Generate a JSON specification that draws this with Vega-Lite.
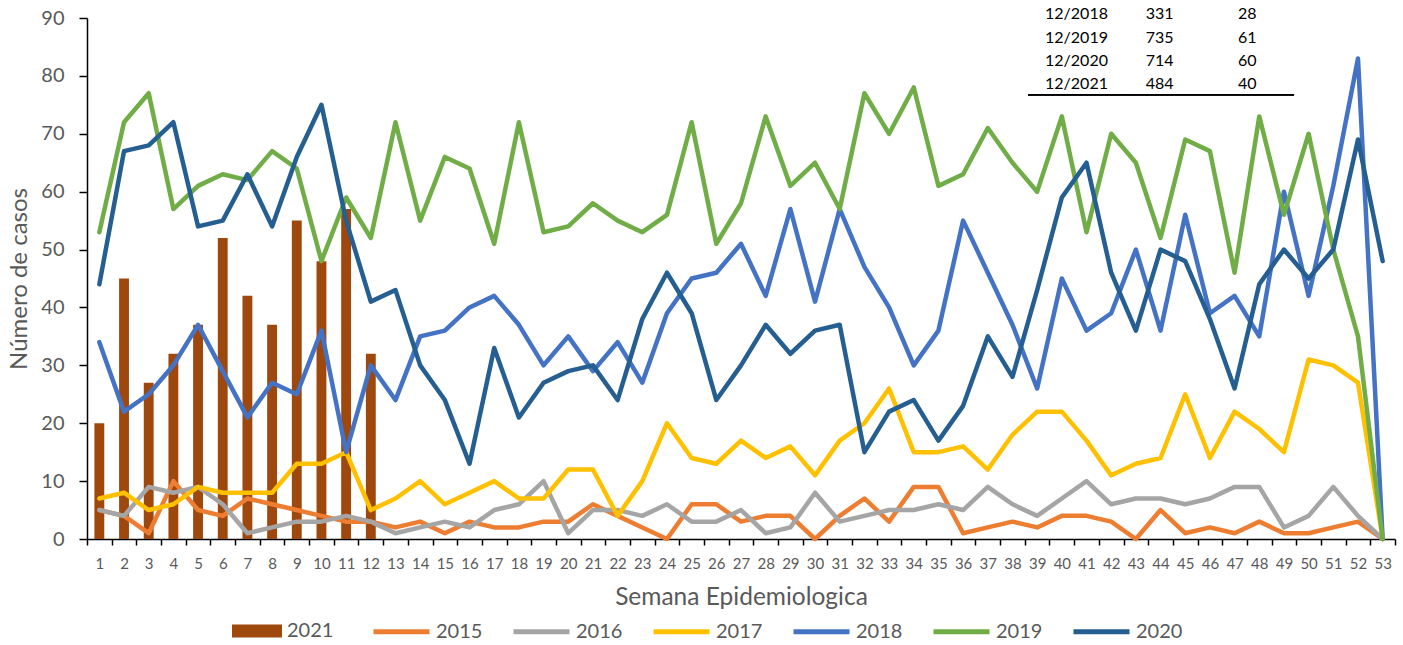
{
  "$schema": "https://vega.github.io/schema/vega-lite/v6.json",
  "width": 1308,
  "height": 521,
  "autosize": {"type": "none"},
  "padding": {"left": 87, "top": 18, "right": 8, "bottom": 106},
  "background": "white",
  "config": {
    "font": "Lato",
    "view": {"stroke": null},
    "axis": {"labelFont": "Lato", "titleFont": "Lato", "labelColor": "#595959", "titleColor": "#595959", "titleFontWeight": "normal", "grid": false, "domainColor": "#000000", "tickColor": "#000000", "domainWidth": 1.5, "tickWidth": 1.5},
    "legend": {"labelFont": "Lato", "labelColor": "#595959", "labelFontSize": 20, "padding": 0}
  },
  "datasets": {
    "bars": [
      {"week": 1, "year": "2021", "cases": 20}, {"week": 2, "year": "2021", "cases": 45}, {"week": 3, "year": "2021", "cases": 27},
      {"week": 4, "year": "2021", "cases": 32}, {"week": 5, "year": "2021", "cases": 37}, {"week": 6, "year": "2021", "cases": 52},
      {"week": 7, "year": "2021", "cases": 42}, {"week": 8, "year": "2021", "cases": 37}, {"week": 9, "year": "2021", "cases": 55},
      {"week": 10, "year": "2021", "cases": 48}, {"week": 11, "year": "2021", "cases": 57}, {"week": 12, "year": "2021", "cases": 32}
    ],
    "table": [
      {"period": "12/2018", "year": 2018, "total": 331, "avg": 28},
      {"period": "12/2019", "year": 2019, "total": 735, "avg": 61},
      {"period": "12/2020", "year": 2020, "total": 714, "avg": 60},
      {"period": "12/2021", "year": 2021, "total": 484, "avg": 40}
    ],
    "lines": [
      {"week":1,"year":"2015","cases":5},{"week":2,"year":"2015","cases":4},{"week":3,"year":"2015","cases":1},{"week":4,"year":"2015","cases":10},{"week":5,"year":"2015","cases":5},{"week":6,"year":"2015","cases":4},{"week":7,"year":"2015","cases":7},{"week":8,"year":"2015","cases":6},{"week":9,"year":"2015","cases":5},{"week":10,"year":"2015","cases":4},
      {"week":11,"year":"2015","cases":3},{"week":12,"year":"2015","cases":3},{"week":13,"year":"2015","cases":2},{"week":14,"year":"2015","cases":3},{"week":15,"year":"2015","cases":1},{"week":16,"year":"2015","cases":3},{"week":17,"year":"2015","cases":2},{"week":18,"year":"2015","cases":2},{"week":19,"year":"2015","cases":3},{"week":20,"year":"2015","cases":3},
      {"week":21,"year":"2015","cases":6},{"week":22,"year":"2015","cases":4},{"week":23,"year":"2015","cases":2},{"week":24,"year":"2015","cases":0},{"week":25,"year":"2015","cases":6},{"week":26,"year":"2015","cases":6},{"week":27,"year":"2015","cases":3},{"week":28,"year":"2015","cases":4},{"week":29,"year":"2015","cases":4},{"week":30,"year":"2015","cases":0},
      {"week":31,"year":"2015","cases":4},{"week":32,"year":"2015","cases":7},{"week":33,"year":"2015","cases":3},{"week":34,"year":"2015","cases":9},{"week":35,"year":"2015","cases":9},{"week":36,"year":"2015","cases":1},{"week":37,"year":"2015","cases":2},{"week":38,"year":"2015","cases":3},{"week":39,"year":"2015","cases":2},{"week":40,"year":"2015","cases":4},
      {"week":41,"year":"2015","cases":4},{"week":42,"year":"2015","cases":3},{"week":43,"year":"2015","cases":0},{"week":44,"year":"2015","cases":5},{"week":45,"year":"2015","cases":1},{"week":46,"year":"2015","cases":2},{"week":47,"year":"2015","cases":1},{"week":48,"year":"2015","cases":3},{"week":49,"year":"2015","cases":1},{"week":50,"year":"2015","cases":1},
      {"week":51,"year":"2015","cases":2},{"week":52,"year":"2015","cases":3},{"week":53,"year":"2015","cases":0},

      {"week":1,"year":"2016","cases":5},{"week":2,"year":"2016","cases":4},{"week":3,"year":"2016","cases":9},{"week":4,"year":"2016","cases":8},{"week":5,"year":"2016","cases":9},{"week":6,"year":"2016","cases":6},{"week":7,"year":"2016","cases":1},{"week":8,"year":"2016","cases":2},{"week":9,"year":"2016","cases":3},{"week":10,"year":"2016","cases":3},
      {"week":11,"year":"2016","cases":4},{"week":12,"year":"2016","cases":3},{"week":13,"year":"2016","cases":1},{"week":14,"year":"2016","cases":2},{"week":15,"year":"2016","cases":3},{"week":16,"year":"2016","cases":2},{"week":17,"year":"2016","cases":5},{"week":18,"year":"2016","cases":6},{"week":19,"year":"2016","cases":10},{"week":20,"year":"2016","cases":1},
      {"week":21,"year":"2016","cases":5},{"week":22,"year":"2016","cases":5},{"week":23,"year":"2016","cases":4},{"week":24,"year":"2016","cases":6},{"week":25,"year":"2016","cases":3},{"week":26,"year":"2016","cases":3},{"week":27,"year":"2016","cases":5},{"week":28,"year":"2016","cases":1},{"week":29,"year":"2016","cases":2},{"week":30,"year":"2016","cases":8},
      {"week":31,"year":"2016","cases":3},{"week":32,"year":"2016","cases":4},{"week":33,"year":"2016","cases":5},{"week":34,"year":"2016","cases":5},{"week":35,"year":"2016","cases":6},{"week":36,"year":"2016","cases":5},{"week":37,"year":"2016","cases":9},{"week":38,"year":"2016","cases":6},{"week":39,"year":"2016","cases":4},{"week":40,"year":"2016","cases":7},
      {"week":41,"year":"2016","cases":10},{"week":42,"year":"2016","cases":6},{"week":43,"year":"2016","cases":7},{"week":44,"year":"2016","cases":7},{"week":45,"year":"2016","cases":6},{"week":46,"year":"2016","cases":7},{"week":47,"year":"2016","cases":9},{"week":48,"year":"2016","cases":9},{"week":49,"year":"2016","cases":2},{"week":50,"year":"2016","cases":4},
      {"week":51,"year":"2016","cases":9},{"week":52,"year":"2016","cases":4},{"week":53,"year":"2016","cases":0},

      {"week":1,"year":"2017","cases":7},{"week":2,"year":"2017","cases":8},{"week":3,"year":"2017","cases":5},{"week":4,"year":"2017","cases":6},{"week":5,"year":"2017","cases":9},{"week":6,"year":"2017","cases":8},{"week":7,"year":"2017","cases":8},{"week":8,"year":"2017","cases":8},{"week":9,"year":"2017","cases":13},{"week":10,"year":"2017","cases":13},
      {"week":11,"year":"2017","cases":15},{"week":12,"year":"2017","cases":5},{"week":13,"year":"2017","cases":7},{"week":14,"year":"2017","cases":10},{"week":15,"year":"2017","cases":6},{"week":16,"year":"2017","cases":8},{"week":17,"year":"2017","cases":10},{"week":18,"year":"2017","cases":7},{"week":19,"year":"2017","cases":7},{"week":20,"year":"2017","cases":12},
      {"week":21,"year":"2017","cases":12},{"week":22,"year":"2017","cases":4},{"week":23,"year":"2017","cases":10},{"week":24,"year":"2017","cases":20},{"week":25,"year":"2017","cases":14},{"week":26,"year":"2017","cases":13},{"week":27,"year":"2017","cases":17},{"week":28,"year":"2017","cases":14},{"week":29,"year":"2017","cases":16},{"week":30,"year":"2017","cases":11},
      {"week":31,"year":"2017","cases":17},{"week":32,"year":"2017","cases":20},{"week":33,"year":"2017","cases":26},{"week":34,"year":"2017","cases":15},{"week":35,"year":"2017","cases":15},{"week":36,"year":"2017","cases":16},{"week":37,"year":"2017","cases":12},{"week":38,"year":"2017","cases":18},{"week":39,"year":"2017","cases":22},{"week":40,"year":"2017","cases":22},
      {"week":41,"year":"2017","cases":17},{"week":42,"year":"2017","cases":11},{"week":43,"year":"2017","cases":13},{"week":44,"year":"2017","cases":14},{"week":45,"year":"2017","cases":25},{"week":46,"year":"2017","cases":14},{"week":47,"year":"2017","cases":22},{"week":48,"year":"2017","cases":19},{"week":49,"year":"2017","cases":15},{"week":50,"year":"2017","cases":31},
      {"week":51,"year":"2017","cases":30},{"week":52,"year":"2017","cases":27},{"week":53,"year":"2017","cases":0},

      {"week":1,"year":"2018","cases":34},{"week":2,"year":"2018","cases":22},{"week":3,"year":"2018","cases":25},{"week":4,"year":"2018","cases":30},{"week":5,"year":"2018","cases":37},{"week":6,"year":"2018","cases":29},{"week":7,"year":"2018","cases":21},{"week":8,"year":"2018","cases":27},{"week":9,"year":"2018","cases":25},{"week":10,"year":"2018","cases":36},
      {"week":11,"year":"2018","cases":15},{"week":12,"year":"2018","cases":30},{"week":13,"year":"2018","cases":24},{"week":14,"year":"2018","cases":35},{"week":15,"year":"2018","cases":36},{"week":16,"year":"2018","cases":40},{"week":17,"year":"2018","cases":42},{"week":18,"year":"2018","cases":37},{"week":19,"year":"2018","cases":30},{"week":20,"year":"2018","cases":35},
      {"week":21,"year":"2018","cases":29},{"week":22,"year":"2018","cases":34},{"week":23,"year":"2018","cases":27},{"week":24,"year":"2018","cases":39},{"week":25,"year":"2018","cases":45},{"week":26,"year":"2018","cases":46},{"week":27,"year":"2018","cases":51},{"week":28,"year":"2018","cases":42},{"week":29,"year":"2018","cases":57},{"week":30,"year":"2018","cases":41},
      {"week":31,"year":"2018","cases":57},{"week":32,"year":"2018","cases":47},{"week":33,"year":"2018","cases":40},{"week":34,"year":"2018","cases":30},{"week":35,"year":"2018","cases":36},{"week":36,"year":"2018","cases":55},{"week":37,"year":"2018","cases":46},{"week":38,"year":"2018","cases":37},{"week":39,"year":"2018","cases":26},{"week":40,"year":"2018","cases":45},
      {"week":41,"year":"2018","cases":36},{"week":42,"year":"2018","cases":39},{"week":43,"year":"2018","cases":50},{"week":44,"year":"2018","cases":36},{"week":45,"year":"2018","cases":56},{"week":46,"year":"2018","cases":39},{"week":47,"year":"2018","cases":42},{"week":48,"year":"2018","cases":35},{"week":49,"year":"2018","cases":60},{"week":50,"year":"2018","cases":42},
      {"week":51,"year":"2018","cases":61},{"week":52,"year":"2018","cases":83},{"week":53,"year":"2018","cases":0},

      {"week":1,"year":"2019","cases":53},{"week":2,"year":"2019","cases":72},{"week":3,"year":"2019","cases":77},{"week":4,"year":"2019","cases":57},{"week":5,"year":"2019","cases":61},{"week":6,"year":"2019","cases":63},{"week":7,"year":"2019","cases":62},{"week":8,"year":"2019","cases":67},{"week":9,"year":"2019","cases":64},{"week":10,"year":"2019","cases":48},
      {"week":11,"year":"2019","cases":59},{"week":12,"year":"2019","cases":52},{"week":13,"year":"2019","cases":72},{"week":14,"year":"2019","cases":55},{"week":15,"year":"2019","cases":66},{"week":16,"year":"2019","cases":64},{"week":17,"year":"2019","cases":51},{"week":18,"year":"2019","cases":72},{"week":19,"year":"2019","cases":53},{"week":20,"year":"2019","cases":54},
      {"week":21,"year":"2019","cases":58},{"week":22,"year":"2019","cases":55},{"week":23,"year":"2019","cases":53},{"week":24,"year":"2019","cases":56},{"week":25,"year":"2019","cases":72},{"week":26,"year":"2019","cases":51},{"week":27,"year":"2019","cases":58},{"week":28,"year":"2019","cases":73},{"week":29,"year":"2019","cases":61},{"week":30,"year":"2019","cases":65},
      {"week":31,"year":"2019","cases":57},{"week":32,"year":"2019","cases":77},{"week":33,"year":"2019","cases":70},{"week":34,"year":"2019","cases":78},{"week":35,"year":"2019","cases":61},{"week":36,"year":"2019","cases":63},{"week":37,"year":"2019","cases":71},{"week":38,"year":"2019","cases":65},{"week":39,"year":"2019","cases":60},{"week":40,"year":"2019","cases":73},
      {"week":41,"year":"2019","cases":53},{"week":42,"year":"2019","cases":70},{"week":43,"year":"2019","cases":65},{"week":44,"year":"2019","cases":52},{"week":45,"year":"2019","cases":69},{"week":46,"year":"2019","cases":67},{"week":47,"year":"2019","cases":46},{"week":48,"year":"2019","cases":73},{"week":49,"year":"2019","cases":56},{"week":50,"year":"2019","cases":70},
      {"week":51,"year":"2019","cases":50},{"week":52,"year":"2019","cases":35},{"week":53,"year":"2019","cases":0},

      {"week":1,"year":"2020","cases":44},{"week":2,"year":"2020","cases":67},{"week":3,"year":"2020","cases":68},{"week":4,"year":"2020","cases":72},{"week":5,"year":"2020","cases":54},{"week":6,"year":"2020","cases":55},{"week":7,"year":"2020","cases":63},{"week":8,"year":"2020","cases":54},{"week":9,"year":"2020","cases":66},{"week":10,"year":"2020","cases":75},
      {"week":11,"year":"2020","cases":55},{"week":12,"year":"2020","cases":41},{"week":13,"year":"2020","cases":43},{"week":14,"year":"2020","cases":30},{"week":15,"year":"2020","cases":24},{"week":16,"year":"2020","cases":13},{"week":17,"year":"2020","cases":33},{"week":18,"year":"2020","cases":21},{"week":19,"year":"2020","cases":27},{"week":20,"year":"2020","cases":29},
      {"week":21,"year":"2020","cases":30},{"week":22,"year":"2020","cases":24},{"week":23,"year":"2020","cases":38},{"week":24,"year":"2020","cases":46},{"week":25,"year":"2020","cases":39},{"week":26,"year":"2020","cases":24},{"week":27,"year":"2020","cases":30},{"week":28,"year":"2020","cases":37},{"week":29,"year":"2020","cases":32},{"week":30,"year":"2020","cases":36},
      {"week":31,"year":"2020","cases":37},{"week":32,"year":"2020","cases":15},{"week":33,"year":"2020","cases":22},{"week":34,"year":"2020","cases":24},{"week":35,"year":"2020","cases":17},{"week":36,"year":"2020","cases":23},{"week":37,"year":"2020","cases":35},{"week":38,"year":"2020","cases":28},{"week":39,"year":"2020","cases":43},{"week":40,"year":"2020","cases":59},
      {"week":41,"year":"2020","cases":65},{"week":42,"year":"2020","cases":46},{"week":43,"year":"2020","cases":36},{"week":44,"year":"2020","cases":50},{"week":45,"year":"2020","cases":48},{"week":46,"year":"2020","cases":38},{"week":47,"year":"2020","cases":26},{"week":48,"year":"2020","cases":44},{"week":49,"year":"2020","cases":50},{"week":50,"year":"2020","cases":45},
      {"week":51,"year":"2020","cases":50},{"week":52,"year":"2020","cases":69},{"week":53,"year":"2020","cases":48}
    ]
  },
  "layer": [
    {
      "layer": [
        {
          "data": {"name": "bars"},
          "mark": {"type": "bar", "width": {"band": 0.4}},
          "encoding": {
            "x": {"field": "week", "type": "ordinal", "scale": {"type": "band", "paddingInner": 0, "paddingOuter": 0},
                  "axis": {"title": "Semana Epidemiologica", "labelAngle": 0, "tickBand": "extent", "tickSize": 6, "labelFontSize": 15, "labelPadding": 11, "titleFontSize": 24.5, "titlePadding": 14, "labelOverlap": false}},
            "y": {"field": "cases", "type": "quantitative", "scale": {"domain": [0, 90], "nice": false},
                  "axis": {"values": [0, 10, 20, 30, 40, 50, 60, 70, 80, 90], "title": "Número de casos", "tickSize": 8, "labelFontSize": 20, "labelPadding": 15, "titleFontSize": 24, "titlePadding": 9}},
            "fill": {"field": "year", "type": "nominal", "scale": {"domain": ["2021"], "range": ["#9E480E"]},
                     "legend": {"orient": "none", "legendX": 145, "legendY": 588, "title": null, "symbolType": "M-1,-0.26H1V0.26H-1Z", "symbolSize": 2500, "symbolStrokeWidth": 0, "labelOffset": 5}}
          }
        },
        {
          "data": {"name": "lines"},
          "mark": {"type": "line", "strokeWidth": 4.5, "strokeJoin": "round", "strokeCap": "round"},
          "encoding": {
            "x": {"field": "week", "type": "ordinal", "scale": {"type": "band"}},
            "y": {"field": "cases", "type": "quantitative"},
            "stroke": {"field": "year", "type": "nominal",
                       "scale": {"domain": ["2015", "2016", "2017", "2018", "2019", "2020"], "range": ["#ED7D31", "#A5A5A5", "#FFC000", "#4472C4", "#70AD47", "#255E91"]},
                       "legend": {"orient": "none", "legendX": 284, "legendY": 583, "direction": "horizontal", "columns": 6, "title": null, "symbolType": "stroke", "symbolSize": 3136, "symbolStrokeWidth": 5, "labelOffset": 4, "columnPadding": 20}}
          }
        }
      ]
    },
    {
      "data": {"name": "table"},
      "encoding": {
        "y": {"field": "year", "type": "quantitative", "scale": {"domain": [2018.163, 2040.523], "reverse": true, "nice": false, "zero": false}, "axis": null}
      },
      "layer": [
        {"mark": {"type": "text", "align": "left", "baseline": "middle", "fontSize": 16, "color": "#000000"},
         "encoding": {"x": {"datum": 39.32, "type": "quantitative", "scale": {"domain": [0.5, 53.5], "nice": false, "zero": false}, "axis": null}, "text": {"field": "period"}}},
        {"mark": {"type": "text", "align": "left", "baseline": "middle", "fontSize": 16, "color": "#000000"},
         "encoding": {"x": {"datum": 43.4, "type": "quantitative"}, "text": {"field": "total"}}},
        {"mark": {"type": "text", "align": "left", "baseline": "middle", "fontSize": 16, "color": "#000000"},
         "encoding": {"x": {"datum": 47.14, "type": "quantitative"}, "text": {"field": "avg"}}},
        {"mark": {"type": "rule", "color": "#000000", "strokeWidth": 1.5},
         "encoding": {"x": {"datum": 38.63, "type": "quantitative"}, "x2": {"datum": 49.41}, "y": {"datum": 2021.455, "type": "quantitative"}}}
      ]
    }
  ],
  "resolve": {"scale": {"x": "independent", "y": "independent", "fill": "independent", "stroke": "independent"}}
}
